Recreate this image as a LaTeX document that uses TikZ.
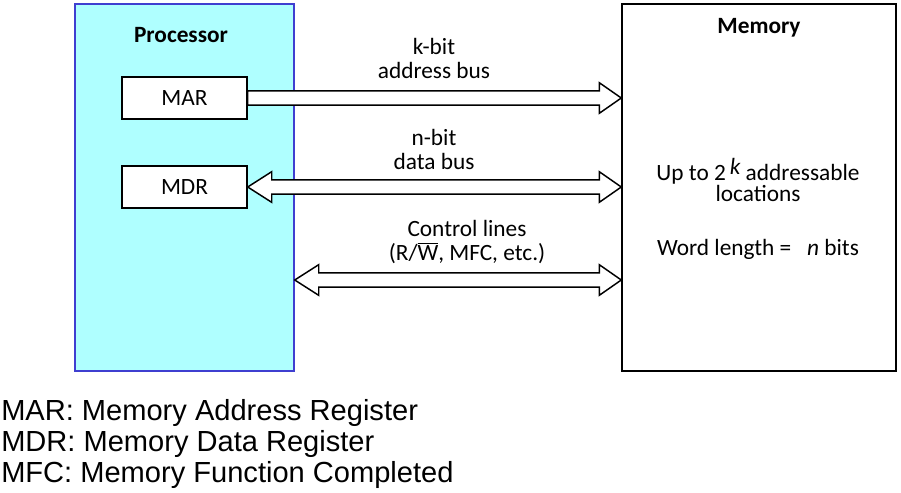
\documentclass[tikz,border=0pt]{standalone}
\usepackage{fontspec}
\setmainfont{Carlito}
\newfontfamily\legendfont{Liberation Sans}
\usetikzlibrary{calc, positioning}
\definecolor{procfill}{HTML}{AFFFFF}
\definecolor{procedge}{HTML}{3F3FD0}

% wide bus arrows, drawn as outlines between two points
\newcommand{\onewaybus}[2]{%
  \draw[bus] let \p1=(#1), \p2=(#2) in
    (\x1,\y1+5.4pt) -- (\x2-16.5pt,\y1+5.4pt) -- (\x2-16.5pt,\y1+11.5pt)
    -- (\x2,\y1) -- (\x2-16.5pt,\y1-11.5pt) -- (\x2-16.5pt,\y1-5.4pt)
    -- (\x1,\y1-5.4pt) -- cycle;}
\newcommand{\twowaybus}[2]{%
  \draw[bus] let \p1=(#1), \p2=(#2) in
    (\x1,\y1) -- (\x1+18pt,\y1+11.5pt) -- (\x1+18pt,\y1+5.4pt)
    -- (\x2-16.5pt,\y1+5.4pt) -- (\x2-16.5pt,\y1+11.5pt) -- (\x2,\y1)
    -- (\x2-16.5pt,\y1-11.5pt) -- (\x2-16.5pt,\y1-5.4pt)
    -- (\x1+18pt,\y1-5.4pt) -- (\x1+18pt,\y1-11.5pt) -- cycle;}

\begin{document}
\begin{tikzpicture}[
  x=0.75pt, y=-0.75pt,
  font=\fontsize{17.5}{18}\selectfont,
  unit/.style={draw, line width=1.1pt, minimum width=205.5pt, minimum height=275pt,
    inner sep=0pt},
  reg/.style={draw, line width=1.1pt, fill=white, minimum width=93.75pt,
    minimum height=31.5pt, inner sep=0pt},
  bus/.style={draw, line width=1.1pt, fill=white, line join=miter},
  label/.style={align=center, inner sep=0pt},
]

\useasboundingbox (0,0) rectangle (901,493);

% === Processor and memory ===
\node[unit, draw=procedge, fill=procfill, minimum width=164.25pt] (proc) at (184.5,187.5) {};
\node[unit] (mem) at (759,187.5) {};
\node[font=\fontsize{17.5}{18}\selectfont\bfseries] (proctitle) at (181,35) {Processor};
\node[font=\fontsize{17.5}{18}\selectfont\bfseries] (memtitle) at (759,28) {Memory};

% registers
\node[reg] (mar) at (184.5,98) {MAR};
\node[reg] (mdr) at (184.5,187) {MDR};

% === Buses ===
\coordinate (ctlL) at (proc.east |- 0,280);
\coordinate (ctlR) at (mem.west |- 0,280);

\onewaybus{mar.east}{mem.west |- mar.east}
\twowaybus{mdr.east}{mem.west |- mdr.east}
\twowaybus{ctlL}{ctlR}

\node[label] (addrlab) at (434,58) {k-bit\\address bus};
\node[label] (datalab) at (434,149.5) {n-bit\\data bus};
\node[label] (ctllab) at (467,242) {Control lines\\(R/$\overline{\mbox{W}}$, MFC, etc.)};

% memory contents
\node[label, font=\fontsize{17.5}{16}\selectfont] (memtext) at (758,180)
  {Up to 2\,\raisebox{0.55ex}{\itshape k} addressable\\locations};
\node[label] (wordtext) at (758,249) {Word length =\ \ \ \textit{n} bits};

% === Legend ===
\node[label, align=left, anchor=north west,
  font=\legendfont\fontsize{21.8}{23.5}\selectfont] (legend) at (1,399)
  {MAR: Memory Address Register\\MDR: Memory Data Register\\MFC: Memory Function Completed};

\end{tikzpicture}
\end{document}
